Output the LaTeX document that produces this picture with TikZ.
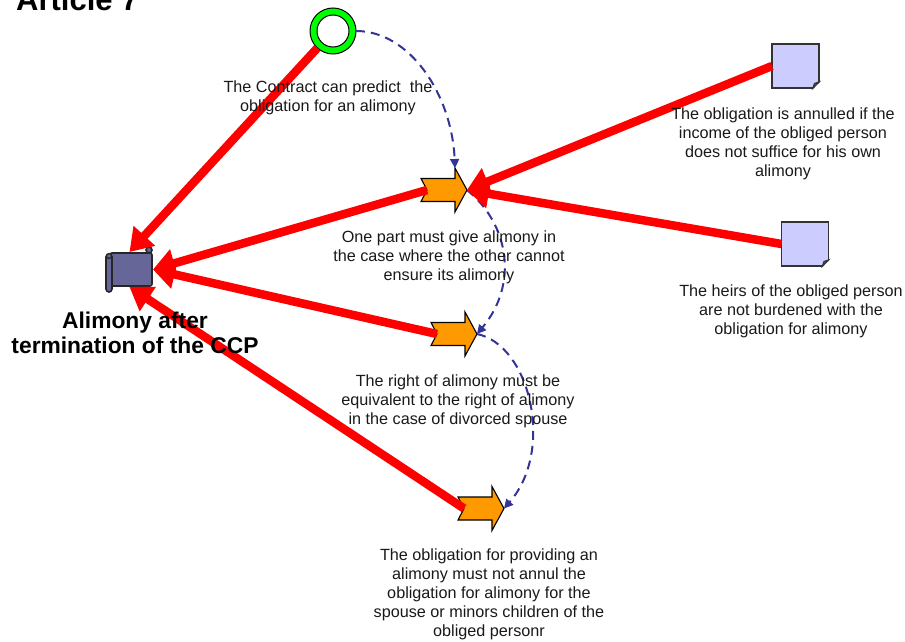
\documentclass[tikz,border=0pt]{standalone}
\usepackage{fontspec}
\usepackage{tikz}
\usetikzlibrary{arrows.meta}
\setmainfont{Liberation Sans}

\definecolor{redline}{RGB}{255,0,0}
\definecolor{dashblue}{RGB}{51,51,153}
\definecolor{scrollblue}{RGB}{102,102,153}
\definecolor{docblue}{RGB}{204,204,255}
\definecolor{taskorange}{RGB}{255,153,0}

% notched arrow drawn round a named node
\newcommand{\taskarrow}[3]{
\node [taskbox] (#1) at (#2,#3) {};
\draw [taskedge,shift={(#1.center)}] (-26,-11.5) -- (8,-11.5) -- (8,-22) -- (20,0) -- (8,22) -- (8,11.5) -- (-26,11.5) -- (-20,0) -- cycle;
}
% page with a folded corner
\newcommand{\docpage}[3]{
\node [docbox] (#1) at (#2,#3) {};
\fill [white,shift={(#1.south east)}] (1,1) -- (-6,1) -- (1,-6) -- cycle;
\draw [line width=1.2pt,draw=black!80,fill=docblue!55!black,shift={(#1.south east)}] (-6,0) -- (-4.5,-4.5) -- (0,-6) -- cycle;
}

\begin{document}
\begin{tikzpicture}[x=1pt,y=-1pt]
\tikzstyle{label}=[align=center,font=\fontsize{16.2}{19}\selectfont,text=black!90,inner sep=0pt];
\tikzstyle{taskbox}=[minimum width=40pt,minimum height=44pt,inner sep=0pt,outer sep=0pt];
\tikzstyle{taskedge}=[draw=black,fill=taskorange,line width=1.1pt];
\tikzstyle{docbox}=[draw=black!80,fill=docblue,line width=1.2pt,minimum width=47pt,minimum height=44pt,inner sep=0pt,outer sep=0pt];
\tikzstyle{redarrow}=[draw=redline,line width=8.5pt,-{Triangle[length=22pt,width=28pt]}];
\tikzstyle{dasharrow}=[draw=dashblue,line width=2pt,dash pattern=on 9pt off 6pt,-{Triangle[length=9pt,width=9pt]}];

\useasboundingbox (0,0) rectangle (905,642);

\node [font=\fontsize{31}{34}\selectfont\bfseries,anchor=base west,inner sep=0pt] (title) at (16,11) {Article 7};

\node [circle,draw=black,fill=green,line width=1pt,minimum size=46pt,inner sep=0pt,outer sep=0pt] (contract) at (333,31) {};
\node [circle,draw=black,fill=white,line width=1pt,minimum size=32pt,inner sep=0pt] (contractin) at (333,31) {};

\taskarrow{part1}{447}{190}
\taskarrow{part2}{457}{334}
\taskarrow{part3}{484}{508.5}

\docpage{doc1}{795.5}{66}
\docpage{doc2}{805}{244}

% scroll
\node [minimum width=47pt,minimum height=35pt,inner sep=0pt,outer sep=0pt] (scroll) at (129.5,269.5) {};
\draw [draw=black!85,fill=scrollblue,line width=1.6pt,rounded corners=2pt] (110,253) -- (152,253) -- (152,286) -- (110,286) -- cycle;
\draw [draw=black!85,fill=scrollblue,line width=1.6pt] (149,250) circle (3pt);
\draw [draw=black!85,fill=scrollblue,line width=1.6pt,rounded corners=3pt] (106,254) rectangle (112,292);
\draw [draw=black!85,fill=scrollblue,line width=1.2pt] (109,256) circle (2.5pt);

\draw [dasharrow] (contract.east) .. controls (410,31) and (452,95) .. ([xshift=8pt]part1.north);
\draw [dasharrow] (part1.east) .. controls (510,225) and (518,285) .. (part2.east);
\draw [dasharrow] (part2.east) .. controls (530,345) and (555,450) .. (part3.east);

\draw [redarrow] (contract) -- (scroll.north);
\draw [redarrow] (part1.west) -- (scroll.east);
\draw [redarrow] (part2.west) -- (scroll.east);
\draw [redarrow] (part3.west) -- (scroll.south);
\draw [redarrow] (doc1.west) -- (part1.east);
\draw [redarrow] (doc2.west) -- (part1.east);

\node [label] (contracttext) at (328,97.5) {The Contract can predict\ \ the\\obligation for an alimony};
\node [label] (part1text) at (449,257) {One part must give alimony in\\the case where the other cannot\\ensure its alimony};
\node [label] (part2text) at (458,401) {The right of alimony must be\\equivalent to the right of alimony\\in the case of divorced spouse};
\node [label] (part3text) at (489,594) {The obligation for providing an\\alimony must not annul the\\obligation for alimony for the\\spouse or minors children of the\\obliged personr};
\node [label] (doc1text) at (783,144) {The obligation is annulled if the\\income of the obliged person\\does not suffice for his own\\alimony};
\node [label] (doc2text) at (791,311) {The heirs of the obliged person\\are not burdened with the\\obligation for alimony};
\node [align=center,font=\fontsize{22.8}{25}\selectfont\bfseries,inner sep=0pt] (scrolltext) at (135,332.5) {Alimony after\\termination of the CCP};
\end{tikzpicture}
\end{document}
